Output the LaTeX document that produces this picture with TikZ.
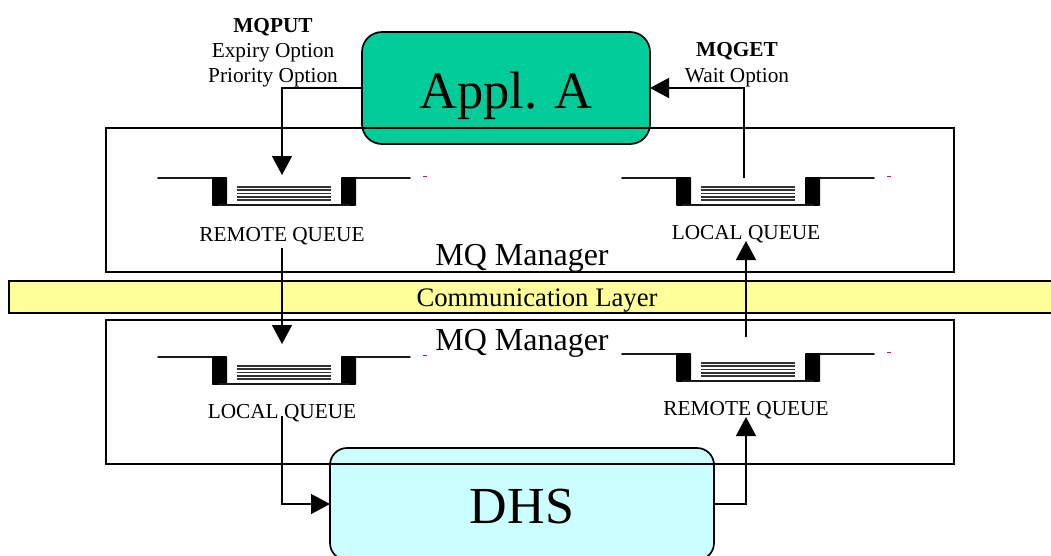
\documentclass[tikz,border=0pt]{standalone}
\usepackage{fontspec}
\setmainfont{Liberation Serif}
\usetikzlibrary{arrows.meta}
\definecolor{applgreen}{HTML}{00CC99}
\definecolor{dhscyan}{HTML}{CCFFFF}
\definecolor{layeryellow}{HTML}{FFFF99}
\definecolor{markred}{HTML}{D0104A}
\tikzset{
  x=1pt,y=-1pt,
  line/.style={line width=1.4pt},
  bigbox/.style={line width=1.7pt,draw=black,rounded corners=20pt,inner sep=0pt,outer sep=0pt,text=black},
  frame/.style={line,draw=black,inner sep=0pt,outer sep=0pt},
  small/.style={font=\fontsize{21.3}{26}\selectfont,inner sep=0pt,anchor=base},
  mgr/.style={font=\fontsize{32}{36}\selectfont,inner sep=0pt,anchor=base},
  flow/.style={line,-{Triangle[length=19pt,width=20pt]}},
  pics/queue/.style={code={
    \draw[line width=1.9pt,line cap=round,black!90] (0,0) -- (54,0);
    \draw[line width=1.9pt,line cap=round,black!90] (198,0) -- (252,0);
    \fill[rounded corners=0.8pt] (54,-0.9) rectangle (69,27.8);
    \fill[rounded corners=0.8pt] (183,-0.9) rectangle (198,27.8);
    \draw[line width=1.8pt,black!90] (60,27) -- (192,27);
    \foreach \yy in {9,12.2,15.4,18.6,21.8}{
      \draw[line width=1.8pt,black!80] (79,\yy) -- (173,\yy);
    }
    \fill[markred] (265,-2.2) rectangle (268.5,-1);
  }},
}
\begin{document}
\begin{tikzpicture}
\useasboundingbox (0,0) rectangle (1051,555);

% application boxes
\node[bigbox,fill=applgreen,minimum width=288pt,minimum height=112pt,
      font=\fontsize{52.5}{58}\selectfont,text height=40pt,text depth=0pt] (applA) at (506,88) {Appl. A};
\node[bigbox,rounded corners=17pt,fill=dhscyan,minimum width=384pt,minimum height=112pt,
      font=\fontsize{52}{58}\selectfont,text height=38pt,text depth=0pt] (dhs) at (522,504) {DHS};

% manager frames
\node[frame,minimum width=848pt,minimum height=144pt] (mgrTop) at (530,200) {};
\node[frame,minimum width=848pt,minimum height=144pt] (mgrBot) at (530,392) {};

% communication layer
\node[frame,fill=layeryellow,minimum width=1056pt,minimum height=32pt,
      font=\fontsize{26.7}{30}\selectfont,text height=18pt,text depth=0pt] (comm) at (537,297) {Communication Layer};

% queues
\pic at (158,178) {queue};
\pic at (622,178) {queue};
\pic at (158,357) {queue};
\pic at (622,354) {queue};

% texts
\node[small] (putT) at (273,32) {\textbf{MQPUT}};
\node[small] (putE) at (273,57) {Expiry Option};
\node[small] (putP) at (273,82) {Priority Option};
\node[small] (getT) at (737,56) {\textbf{MQGET}};
\node[small] (getW) at (737,82) {Wait Option};
\node[small] (q1) at (282,241) {REMOTE QUEUE};
\node[small] (q2) at (746,239) {LOCAL QUEUE};
\node[small] (q3) at (282,418) {LOCAL QUEUE};
\node[small] (q4) at (746,415) {REMOTE QUEUE};
\node[mgr] (mgrTopL) at (522,265) {MQ Manager};
\node[mgr] (mgrBotL) at (522,350) {MQ Manager};

% connector ends
\coordinate (q1in) at (282,175);
\coordinate (q2out) at (744,178);
\coordinate (q1out) at (282,248);
\coordinate (q3in) at (282,344);
\coordinate (q2in) at (746,241);
\coordinate (q4out) at (746,337);
\coordinate (q3out) at (282,416);
\coordinate (q4in) at (746,417);

% connectors
\draw[flow] (applA.west) -| (q1in);
\draw[flow] (q2out) |- (applA.east);
\draw[flow] (q1out) -- (q3in);
\draw[flow] (q4out) -- (q2in);
\draw[flow] (q3out) |- (dhs.west);
\draw[flow] (dhs.east) -| (q4in);
\end{tikzpicture}
\end{document}
